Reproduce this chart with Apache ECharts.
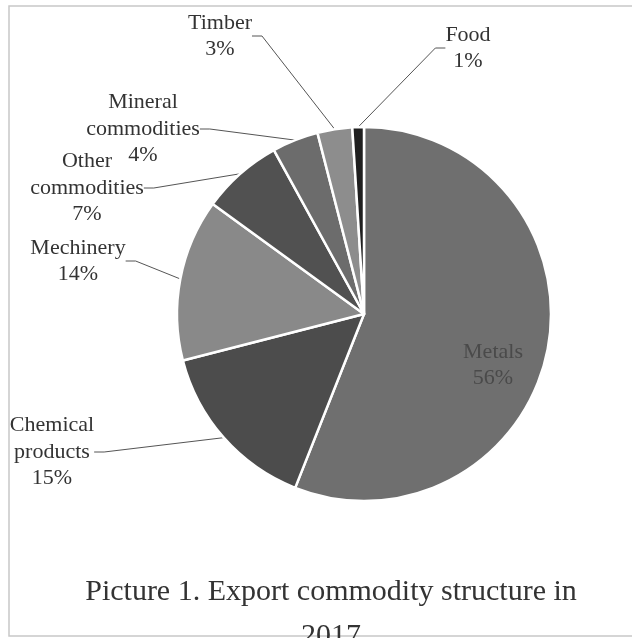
<!DOCTYPE html>
<html>
<head>
<meta charset="utf-8">
<script src="https://cdn.jsdelivr.net/npm/echarts@6/dist/echarts.min.js"></script>
<style>
html,body{margin:0;padding:0;background:#fff;}
#chart{width:632px;height:638px;}
</style>
</head>
<body>
<div id="chart"></div>
<script>
// Data
const categories = ["Metals", "Chemical\nproducts", "Mechinery", "Other\ncommodities", "Mineral\ncommodities", "Timber", "Food"];
const values = [56, 15, 14, 7, 4, 3, 1];
const colors = ["#6f6f6f", "#4c4c4c", "#898989", "#515151", "#6c6c6c", "#8d8d8d", "#1f1f1f"];
const titleText = "Picture 1. Export commodity structure in\n2017";
// label anchor positions (text block centres) in pixels
const labelPos = [
  [493, 365],
  [52, 452],
  [78, 261],
  [87, 188],
  [143, 129],
  [220, 36],
  [468, 48]
];

const chart = echarts.init(document.getElementById('chart'), null, {renderer: 'canvas'});
const seriesData = categories.map((c, i) => ({
  name: c,
  value: values[i],
  itemStyle: {color: colors[i]},
  label: i === 0 ? {color: '#4a4a4a'} : {},
  labelLine: {show: i !== 0}
}));

chart.setOption({
  backgroundColor: '#ffffff',
  animation: false,
  graphic: [{
    type: 'rect',
    shape: {x: 9, y: 6, width: 640, height: 630},
    style: {fill: 'none', stroke: '#c8c8c8', lineWidth: 1.5},
    silent: true
  }, {
    type: 'text',
    x: 331,
    y: 570,
    silent: true,
    style: {
      text: titleText,
      fontFamily: 'Liberation Serif',
      fontSize: 30,
      lineHeight: 44,
      fill: '#333',
      align: 'center',
      verticalAlign: 'top'
    }
  }],
  series: [{
    type: 'pie',
    center: [364, 314],
    radius: [0, 187],
    startAngle: 90,
    clockwise: true,
    avoidLabelOverlap: false,
    itemStyle: {borderColor: '#ffffff', borderWidth: 2.5},
    label: {
      show: true,
      formatter: p => p.name + '\n' + p.value + '%',
      fontFamily: 'Liberation Serif',
      fontSize: 22,
      lineHeight: 26.5,
      color: '#333',
      align: 'center'
    },
    labelLine: {
      show: true,
      length: 10,
      length2: 10,
      lineStyle: {color: '#555', width: 1}
    },
    labelLayout: function (params) {
      const p = labelPos[params.dataIndex];
      return {
        x: p[0],
        y: p[1],
        align: 'center',
        verticalAlign: 'middle'
      };
    },
    data: seriesData
  }]
});
</script>
</body>
</html>
